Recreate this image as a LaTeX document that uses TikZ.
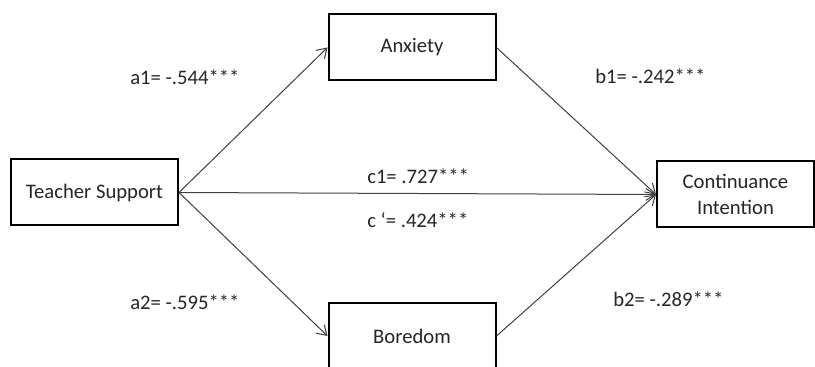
\documentclass[tikz,border=0pt]{standalone}
\usepackage{fontspec}
\setmainfont{Carlito}
\usetikzlibrary{arrows.meta}
\begin{document}
\begin{tikzpicture}[x=0.75pt,y=-0.75pt,
  box/.style={draw=black,line width=1.5pt,minimum width=167*0.75pt,minimum height=66*0.75pt,
    inner sep=0pt,align=center,font=\fontsize{15.5}{19}\selectfont,text=black!85},
  path/.style={draw=black!75,line width=0.75pt,-{Straight Barb[length=7pt,width=9pt,line width=0.75pt]}},
  coef/.style={anchor=west,inner sep=0pt,font=\fontsize{15.5}{19}\selectfont,text=black!85}]
\clip (0,0) rectangle (815,367);
\fill[white] (0,0) rectangle (815,367);
% variables
\node[box] (ts) at (94.5,192.5) {Teacher Support};
\node[box] (anx) at (412,47.5) {Anxiety};
\node[box] (bor) at (412,336) {Boredom};
\node[box,minimum width=157*0.75pt] (ci) at (735.5,194.5) {Continuance\\Intention};
% paths
\draw[path] (ts.east) -- (anx.west);
\draw[path] (ts.east) -- (bor.west);
\draw[path] (ts.east) -- (ci.west);
\draw[path] (anx.east) -- (ci.west);
\draw[path] (bor.east) -- (ci.west);
% coefficients
\node[coef] (la1) at (130,77) {a1= -.544***};
\node[coef] (lb1) at (595,76) {b1= -.242***};
\node[coef] (lc1) at (367,176) {c1= .727***};
\node[coef] (lcp) at (367,220) {c \textquoteleft= .424***};
\node[coef] (la2) at (130,302) {a2= -.595***};
\node[coef] (lb2) at (613,299) {b2= -.289***};
\end{tikzpicture}
\end{document}
